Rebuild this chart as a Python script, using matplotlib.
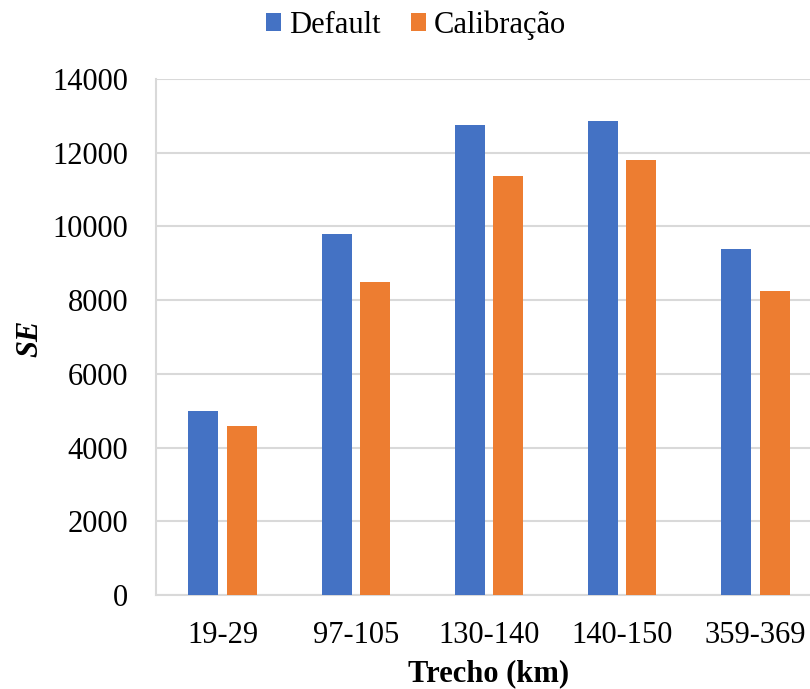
import matplotlib
matplotlib.use("Agg")
import matplotlib.pyplot as plt
import numpy as np

categories = ["19-29", "97-105", "130-140", "140-150", "359-369"]
default_vals = [4985, 9785, 12755, 12865, 9380]
calib_vals = [4590, 8485, 11360, 11795, 8245]
series_names = ["Default", "Calibração"]
yticks = [0, 2000, 4000, 6000, 8000, 10000, 12000, 14000]

plt.rcParams['font.family'] = ['Liberation Serif', 'DejaVu Serif']

fig = plt.figure(figsize=(8.1, 6.89), dpi=100)
ax = fig.add_axes([156/810, 1-595/689, 1-156/810, (595-79)/689])

x = np.arange(len(categories))
w = 0.225
off = 0.144
b1 = ax.bar(x - off, default_vals, w, color="#4472C4", label=series_names[0], zorder=3)
b2 = ax.bar(x + off, calib_vals, w, color="#ED7D31", label=series_names[1], zorder=3)

ax.set_xlim(-0.5, 4.41)
ax.set_ylim(0, 14000)
ax.set_yticks(yticks)
ax.set_yticklabels([str(v) for v in yticks])
ax.set_xticks(x)
ax.set_xticklabels(categories)
ax.tick_params(axis='both', length=0, labelsize=22)
ax.tick_params(axis='y', pad=20)
ax.tick_params(axis='x', pad=19)
ax.yaxis.grid(True, color="#d9d9d9", linewidth=1.5, zorder=0)
ax.set_axisbelow(True)
for s in ["top", "right"]:
    ax.spines[s].set_visible(False)
for s in ["left", "bottom"]:
    ax.spines[s].set_color("#d9d9d9")
    ax.spines[s].set_linewidth(1.5)

fig.text(30/810, 1-338/689, "SE", rotation=90, fontsize=22, fontweight='bold',
         fontstyle='italic', ha='center', va='center')
fig.text(489/810, 1-674/689, "Trecho (km)", fontsize=22, fontweight='bold',
         ha='center', va='center')

fig.legend(handles=[b1, b2], labels=series_names, loc='center',
           bbox_to_anchor=(416/810, 1-25/689), ncol=2, frameon=False,
           fontsize=22, handlelength=0.5, handleheight=0.5, handletextpad=0.25,
           columnspacing=1.0)

fig.savefig("out.png", dpi=100)
